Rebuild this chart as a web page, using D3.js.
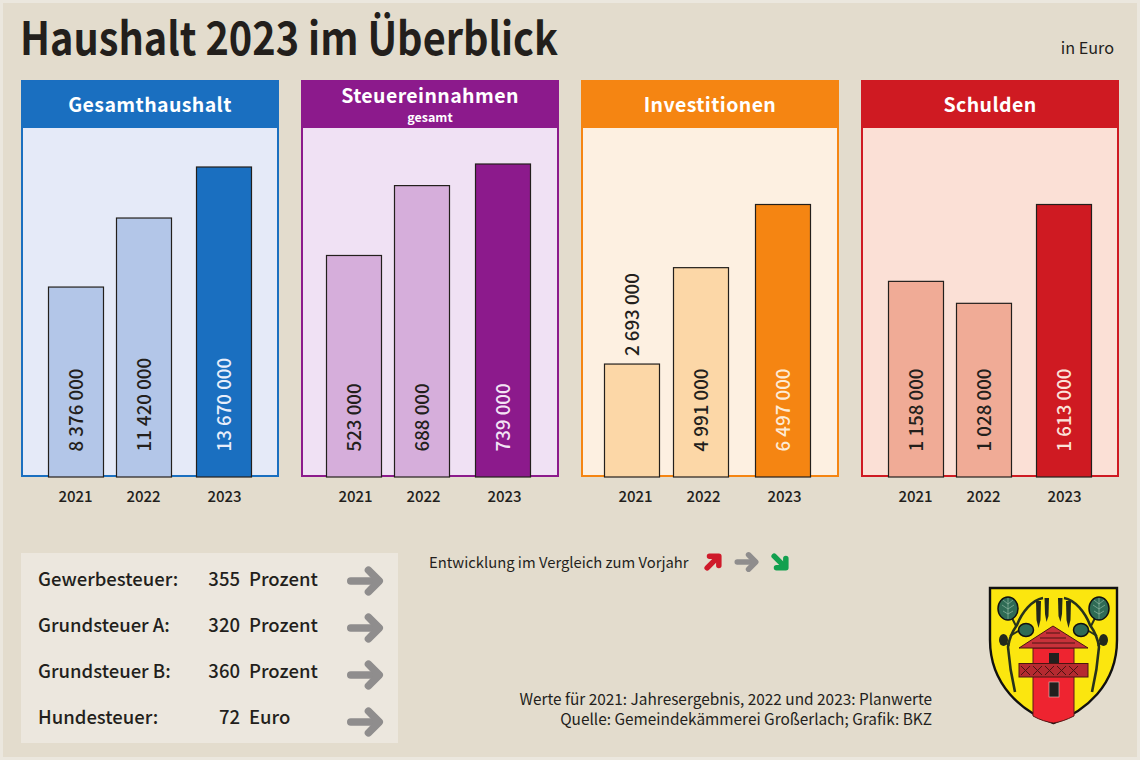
<!DOCTYPE html>
<html><head><meta charset="utf-8">
<style>html,body{margin:0;padding:0;background:#ebe7de;overflow:hidden}svg{display:block}text{font-family:"Noto Sans CJK SC","Noto Sans",sans-serif}</style>
<script src="https://cdn.jsdelivr.net/npm/d3@7"></script></head><body><svg id="c" width="1140" height="760"></svg>
<script>
const years=["2021","2022","2023"];
const panelTitles=["Gesamthaushalt","Steuereinnahmen","Investitionen","Schulden"];
const panelSubtitles=["","gesamt","",""];
const gesamthaushalt=[8376000,11420000,13670000];
const steuereinnahmen=[523000,688000,739000];
const investitionen=[2693000,4991000,6497000];
const schulden=[1158000,1028000,1613000];
const series=[gesamthaushalt,steuereinnahmen,investitionen,schulden];
const taxNames=["Gewerbesteuer:","Grundsteuer A:","Grundsteuer B:","Hundesteuer:"];
const taxValues=[355,320,360,72];
const taxUnits=["Prozent","Prozent","Prozent","Euro"];

const strong=["#1a6fc0","#8c1a8c","#f58512","#cf1a22"];
const pale=["#e5eaf8","#f0e1f4","#fdf0e1","#fbe0d6"];
const soft=["#b3c6e8","#d6aedb","#fcd7a7","#f0ab96"];
const lastText=["#e8eefa","#f3e4f5","#fdebd5","#fbe3da"];
const panelX=[21,301,581,861], panelW=258;
const barW=55, baseY=477;
const barLeft=[[27.5,95.5,175.5],[25.5,93.5,174.5],[23.5,92.5,174.5],[27.5,95.5,175.5]];
const topY=[167,164,204.5,204.5];
const ink="#231f1c";
const svg=d3.select("#c");
svg.append("rect").attr("x",3).attr("y",3).attr("width",1134).attr("height",754).attr("fill","#e3dccd");
svg.append("text").attr("x",20).attr("y",55).attr("font-size",45.5).attr("font-weight",700).attr("fill",ink).attr("textLength",538).attr("lengthAdjust","spacingAndGlyphs").text("Haushalt 2023 im Überblick");
svg.append("text").attr("x",1114).attr("y",54).attr("text-anchor","end").attr("font-size",16.2).attr("fill",ink).text("in Euro");

const fmt=v=>d3.format(",")(v).replace(/,/g," ");
const yearAxisPos=d3.scaleOrdinal().domain(years).range([54,122,203]);
panelTitles.forEach((title,i)=>{
  const g=svg.append("g").attr("transform",`translate(${panelX[i]},0)`);
  g.append("rect").attr("x",1).attr("y",81).attr("width",panelW-2).attr("height",baseY-81-1).attr("fill",pale[i]).attr("stroke",strong[i]).attr("stroke-width",2);
  g.append("rect").attr("x",0).attr("y",80.5).attr("width",panelW).attr("height",47.5).attr("fill",strong[i]);
  g.append("text").attr("x",panelW/2).attr("y",panelSubtitles[i]?102.5:112).attr("text-anchor","middle").attr("fill","#fff").attr("font-size",19.5).attr("font-weight",700).attr("letter-spacing",0.4).text(title);
  if(panelSubtitles[i]) g.append("text").attr("x",panelW/2).attr("y",121.5).attr("text-anchor","middle").attr("fill","#fff").attr("font-size",12.5).attr("font-weight",700).text(panelSubtitles[i]);
  const x=d3.scaleOrdinal().domain(years).range(barLeft[i]);
  const y=d3.scaleLinear().domain([0,d3.max(series[i])]).range([baseY,topY[i]]);
  g.selectAll("rect.bar").data(series[i]).join("rect").attr("class","bar")
    .attr("x",(d,j)=>x(years[j])).attr("y",d=>y(d)).attr("width",barW).attr("height",d=>baseY-y(d))
    .attr("fill",(d,j)=>j==2?strong[i]:soft[i]).attr("stroke",ink).attr("stroke-width",1.2);
  g.selectAll("text.val").data(series[i]).join("text").attr("class","val")
    .attr("transform",(d,j)=>{
      const short=baseY-y(d)<130;
      const py=short?y(d)-8:451.5;
      return `translate(${x(years[j])+barW/2+7},${py}) rotate(-90)`;
    })
    .attr("font-size",18.7).attr("font-weight",500).attr("fill",(d,j)=>j==2?lastText[i]:ink).text(fmt);
  const ax=g.append("g").attr("transform",`translate(0,${baseY+7})`).call(d3.axisBottom(yearAxisPos).tickSize(0).tickPadding(0));
  ax.select(".domain").remove();
  ax.selectAll("text").attr("dy",null).attr("y",18).attr("font-size",15).attr("font-weight",500).attr("fill",ink).style("font-family",'"Noto Sans CJK SC"');
  g.selectAll("g.tick").select("line").remove();
});

function arrow(sel,cx,cy,len,angle,color,w){
  const a=sel.append("g").attr("transform",`translate(${cx},${cy}) rotate(${angle})`).attr("fill","none").attr("stroke",color).attr("stroke-width",w).attr("stroke-linecap","round").attr("stroke-linejoin","round");
  const h=len/2-w/2, s=len*0.3;
  a.append("path").attr("d",`M${-h},0L${h-1},0`);
  a.append("path").attr("d",`M${h-s},${-s}L${h},0L${h-s},${s}`);
}
svg.append("rect").attr("x",21).attr("y",553).attr("width",377).attr("height",190).attr("fill","#ece7de");
const rowY=d3.scalePoint().domain(taxNames).range([586,724]);
const arrowY=d3.scalePoint().domain(taxNames).range([581,722]);
taxNames.forEach((n,i)=>{
  const b=rowY(n);
  const t=svg.append("g").attr("font-size",18.5).attr("font-weight",500).attr("fill",ink);
  t.append("text").attr("x",38).attr("y",b).text(n);
  t.append("text").attr("x",240).attr("y",b).attr("text-anchor","end").text(taxValues[i]);
  t.append("text").attr("x",249).attr("y",b).text(taxUnits[i]);
  arrow(svg,365,arrowY(n),36,0,"#8f8d8d",7.5);
});
svg.append("text").attr("x",429).attr("y",568).attr("font-size",14.8).attr("fill",ink).text("Entwicklung im Vergleich zum Vorjahr");
arrow(svg,713,562,22,-45,"#cf1a2a",5.5);
arrow(svg,746.5,562,24,0,"#8f8d8d",5.5);
arrow(svg,780,562,22,45,"#12a04f",5.5);

const foot=svg.append("g").attr("font-size",15.4).attr("fill",ink).attr("text-anchor","end");
foot.append("text").attr("x",932).attr("y",705).text("Werte für 2021: Jahresergebnis, 2022 und 2023: Planwerte");
foot.append("text").attr("x",932).attr("y",725).text("Quelle: Gemeindekämmerei Großerlach; Grafik: BKZ");

// crest
const cr=svg.append("g");
const twig="#27321c", leaf="#2f6b55";
cr.append("path").attr("d","M990,588H1117V640C1117,685 1085,712 1053.5,723C1022,712 990,685 990,640Z").attr("fill","#fbe60f").attr("stroke","#111").attr("stroke-width",2.4);
[1,-1].forEach(m=>{
  const s=cr.append("g").attr("transform",m<0?"translate(2107,0) scale(-1,1)":null);
  s.append("path").attr("d","M1015,692C1011,675 1009,660 1008,647C1009,640 1012,632 1017,625C1022,612 1032,600 1043,598").attr("fill","none").attr("stroke",twig).attr("stroke-width",2.6);
  s.append("path").attr("d","M1010,636L1020,630M1009,646L1004,640M1016,626L1012,618").attr("fill","none").attr("stroke",twig).attr("stroke-width",2);
  s.append("ellipse").attr("cx",1008).attr("cy",608.5).attr("rx",10).attr("ry",11.5).attr("fill",leaf).attr("stroke","#111").attr("stroke-width",1.5);
  s.append("path").attr("d","M1008,598V619M1008,604L1003,600M1008,604L1013,600M1008,609L1002,605M1008,609L1014,605M1008,614L1003,611M1008,614L1013,611").attr("fill","none").attr("stroke","#9fc4b0").attr("stroke-width",0.6);
  s.append("ellipse").attr("cx",1026).attr("cy",630).attr("rx",7.5).attr("ry",6.5).attr("fill",leaf).attr("stroke","#111").attr("stroke-width",1.5);
  s.append("ellipse").attr("cx",1003.5).attr("cy",640).attr("rx",4.5).attr("ry",6).attr("fill","#22281c");
  s.append("path").attr("d","M1036,601L1041,601L1040.5,620L1038.5,628L1036.5,620Z").attr("fill","#22281c");
  s.append("path").attr("d","M1044.5,598L1049,598L1048.5,616L1046.5,622L1045,614Z").attr("fill","#22281c");
});
cr.append("path").attr("d","M1033,648H1074V716C1066,720 1060,722 1053.5,723C1047,722 1040,720 1033,716Z").attr("fill","#ee2430").attr("stroke","#5a1a18").attr("stroke-width",1);
cr.append("path").attr("d","M1053,626L1088,648H1019Z").attr("fill","#c8323a").attr("stroke","#4a1412").attr("stroke-width",1);
cr.append("path").attr("d","M1040,638H1066M1032,643H1075M1046,633H1060").attr("stroke","#4a1412").attr("stroke-width",1).attr("fill","none");
cr.append("rect").attr("x",1049).attr("y",653).attr("width",10).attr("height",11).attr("fill","#22201e");
cr.append("rect").attr("x",1019).attr("y",663.5).attr("width",69).attr("height",13.5).attr("fill","#b52a30").attr("stroke","#4a1412").attr("stroke-width",1);
cr.append("path").attr("d","M1021,666L1030,675M1030,666L1021,675M1033,666L1042,675M1042,666L1033,675M1045,666L1054,675M1054,666L1045,675M1057,666L1066,675M1066,666L1057,675M1069,666L1078,675M1078,666L1069,675").attr("stroke","#4a1412").attr("stroke-width",1);
cr.append("rect").attr("x",1049).attr("y",682).attr("width",10).attr("height",15).attr("fill","#22201e").attr("stroke","#f0c0c0").attr("stroke-width",0.6);
</script></body></html>
